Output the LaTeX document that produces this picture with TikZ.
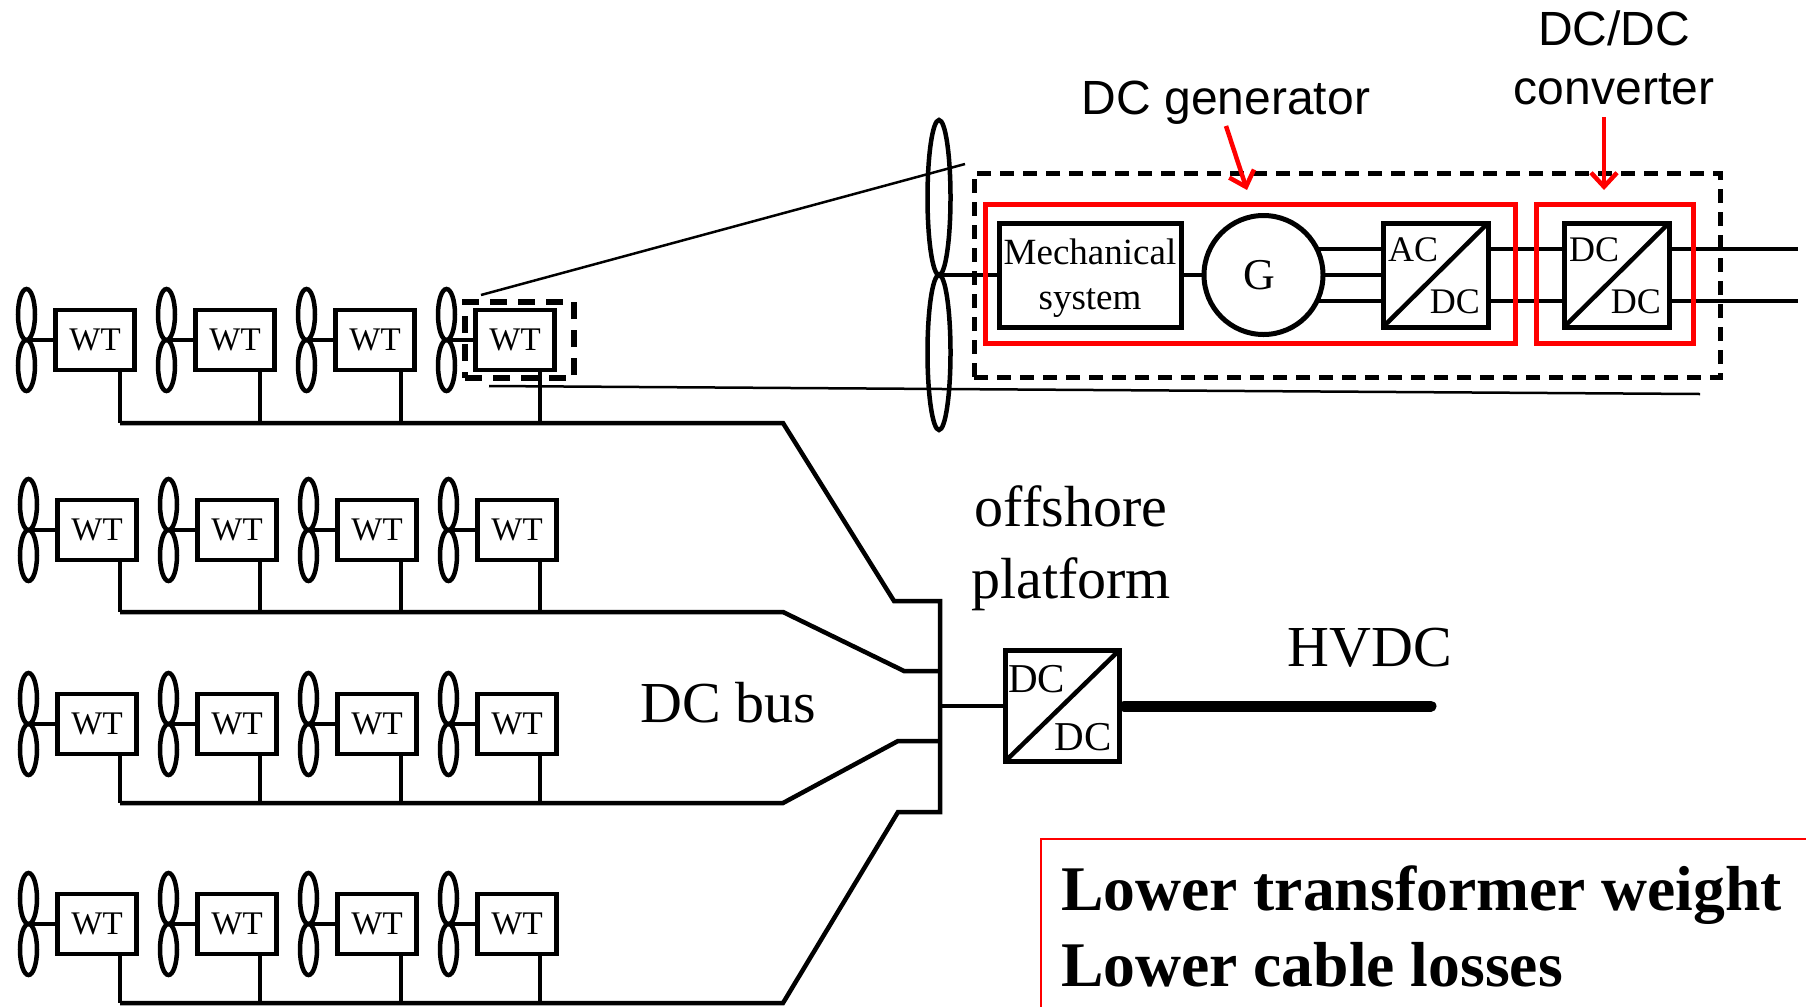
\documentclass[tikz,border=0pt]{standalone}
\usepackage{fontspec}
\setmainfont{Liberation Serif}
\newfontfamily\sanslabel{Liberation Sans}
\usetikzlibrary{positioning}
\usetikzlibrary{shapes.geometric}
\usetikzlibrary{arrows.meta}

\begin{document}
\begin{tikzpicture}[x=1pt,y=-1pt,
        blade/.style={ellipse,draw,line width=4.5pt,inner sep=0pt,outer sep=0pt,minimum width=17pt,minimum height=51pt},
        fan/.style={blade,anchor=south,label={[blade,label distance=0pt]below:{}}},
        bigblade/.style={ellipse,draw,line width=4.5pt,inner sep=0pt,outer sep=0pt,minimum width=23pt,minimum height=155pt},
        bigfan/.style={bigblade,anchor=south,label={[bigblade,label distance=0pt]below:{}}},
        wt/.style={rectangle,draw,line width=4.5pt,outer sep=0pt,minimum width=79pt,minimum height=60pt,inner sep=0pt,font=\fontsize{33}{38}\selectfont},
        block/.style={rectangle,draw,line width=5pt,outer sep=0pt,inner sep=0pt,minimum width=105pt,minimum height=104pt},
        conv/.style={inner sep=0pt,font=\fontsize{36}{40}\selectfont},
        bigconv/.style={inner sep=0pt,font=\fontsize{41}{46}\selectfont},
        big/.style={inner sep=0pt,font=\fontsize{58}{70}\selectfont},
        sans/.style={inner sep=0pt,align=center,font=\sanslabel\fontsize{48}{59}\selectfont},
        wire/.style={line width=4.5pt},
        thin line/.style={line width=2.5pt},
        redbox/.style={rectangle,draw=red,line width=5pt,outer sep=0pt,inner sep=0pt},
        dashbox/.style={rectangle,draw,line width=5pt,outer sep=0pt,inner sep=0pt,dash pattern=on 14pt off 9pt},
        redarr/.style={red,line width=4.5pt,-{Straight Barb[length=14pt,width=26pt]}}
        ]
        \useasboundingbox (0,0) rectangle (1806,1007);
        \node (w11) [wt] at (95,340) {WT};
        \node (w12) [wt,right=61pt of w11] {WT};
        \node (w13) [wt,right=61pt of w12] {WT};
        \node (w14) [wt,right=61pt of w13] {WT};
        \node (w21) [wt] at (97,530) {WT};
        \node (w22) [wt,right=61pt of w21] {WT};
        \node (w23) [wt,right=61pt of w22] {WT};
        \node (w24) [wt,right=61pt of w23] {WT};
        \node (w31) [wt] at (97,724) {WT};
        \node (w32) [wt,right=61pt of w31] {WT};
        \node (w33) [wt,right=61pt of w32] {WT};
        \node (w34) [wt,right=61pt of w33] {WT};
        \node (w41) [wt] at (97,924) {WT};
        \node (w42) [wt,right=61pt of w41] {WT};
        \node (w43) [wt,right=61pt of w42] {WT};
        \node (w44) [wt,right=61pt of w43] {WT};
        \node (f11) [fan] at ([xshift=-29pt]w11.west) {};
        \node (f12) [fan] at ([xshift=-29pt]w12.west) {};
        \node (f13) [fan] at ([xshift=-29pt]w13.west) {};
        \node (f14) [fan] at ([xshift=-29pt]w14.west) {};
        \node (f21) [fan] at ([xshift=-29pt]w21.west) {};
        \node (f22) [fan] at ([xshift=-29pt]w22.west) {};
        \node (f23) [fan] at ([xshift=-29pt]w23.west) {};
        \node (f24) [fan] at ([xshift=-29pt]w24.west) {};
        \node (f31) [fan] at ([xshift=-29pt]w31.west) {};
        \node (f32) [fan] at ([xshift=-29pt]w32.west) {};
        \node (f33) [fan] at ([xshift=-29pt]w33.west) {};
        \node (f34) [fan] at ([xshift=-29pt]w34.west) {};
        \node (f41) [fan] at ([xshift=-29pt]w41.west) {};
        \node (f42) [fan] at ([xshift=-29pt]w42.west) {};
        \node (f43) [fan] at ([xshift=-29pt]w43.west) {};
        \node (f44) [fan] at ([xshift=-29pt]w44.west) {};
        \draw[wire] (f11.south) -- (w11.west);
        \draw[wire] (f12.south) -- (w12.west);
        \draw[wire] (f13.south) -- (w13.west);
        \draw[wire] (f14.south) -- (w14.west);
        \draw[wire] (f21.south) -- (w21.west);
        \draw[wire] (f22.south) -- (w22.west);
        \draw[wire] (f23.south) -- (w23.west);
        \draw[wire] (f24.south) -- (w24.west);
        \draw[wire] (f31.south) -- (w31.west);
        \draw[wire] (f32.south) -- (w32.west);
        \draw[wire] (f33.south) -- (w33.west);
        \draw[wire] (f34.south) -- (w34.west);
        \draw[wire] (f41.south) -- (w41.west);
        \draw[wire] (f42.south) -- (w42.west);
        \draw[wire] (f43.south) -- (w43.west);
        \draw[wire] (f44.south) -- (w44.west);
        \coordinate (b11) at (120,423);
        \coordinate (b12) at (260,423);
        \coordinate (b13) at (401,423);
        \coordinate (b14) at (540,423);
        \coordinate (b21) at (120,612);
        \coordinate (b22) at (260,612);
        \coordinate (b23) at (401,612);
        \coordinate (b24) at (540,612);
        \coordinate (b31) at (120,803);
        \coordinate (b32) at (260,803);
        \coordinate (b33) at (401,803);
        \coordinate (b34) at (540,803);
        \coordinate (b41) at (120,1003);
        \coordinate (b42) at (260,1003);
        \coordinate (b43) at (401,1003);
        \coordinate (b44) at (540,1003);
        \draw[wire] (b11 |- w11.south) -- (b11);
        \draw[wire] (b12 |- w12.south) -- (b12);
        \draw[wire] (b13 |- w13.south) -- (b13);
        \draw[wire] (b14 |- w14.south) -- (b14);
        \draw[wire] (b21 |- w21.south) -- (b21);
        \draw[wire] (b22 |- w22.south) -- (b22);
        \draw[wire] (b23 |- w23.south) -- (b23);
        \draw[wire] (b24 |- w24.south) -- (b24);
        \draw[wire] (b31 |- w31.south) -- (b31);
        \draw[wire] (b32 |- w32.south) -- (b32);
        \draw[wire] (b33 |- w33.south) -- (b33);
        \draw[wire] (b34 |- w34.south) -- (b34);
        \draw[wire] (b41 |- w41.south) -- (b41);
        \draw[wire] (b42 |- w42.south) -- (b42);
        \draw[wire] (b43 |- w43.south) -- (b43);
        \draw[wire] (b44 |- w44.south) -- (b44);
        \coordinate (v1) at (940,601);
        \coordinate (v2) at (940,671);
        \coordinate (v3) at (940,741);
        \coordinate (v4) at (940,812);
        \coordinate (hub) at (940,706);
        \draw[wire] (b11) -- (783,423) -- (894,601) -- (v1) -- (v4) -- (898,812) -- (783,1003) -- (b41);
        \draw[wire] (b21) -- (783,612) -- (904,671) -- (v2);
        \draw[wire] (b31) -- (783,803) -- (898,741) -- (v3);
        \node (pf) [block,minimum width=114pt,minimum height=111pt] at (1062,706) {};
        \draw[wire] (hub) -- (pf.west);
        \draw[wire] (pf.south west) -- (pf.north east);
        \node (pfa) [bigconv,below right=15pt and 3pt of pf.north west] {DC};
        \node (pfb) [bigconv,above left=10pt and 7pt of pf.south east] {DC};
        \coordinate (hv) at (1431,706);
        \draw[line width=11pt,line cap=round,shorten <=5pt] (pf.east) -- (hv);
        \node (off) [big,align=center] at (1071,548) {offshore\\[2pt]platform};
        \node (hvdc) [big] at (1370,648) {HVDC};
        \node (bus) [big] at (728,703) {DC bus};
        \coordinate (rn) at (1806,839);
        \coordinate (rc) at (1041,839);
        \coordinate (rs) at (1041,1007);
        \draw[red,line width=2.5pt] (rn) -- (rc) -- (rs);
        \node (gain) [anchor=west,align=left,inner sep=0pt,font=\bfseries\fontsize{63.6}{76}\selectfont] at (1061,926) {Lower transformer weight\\Lower cable losses};
        \node (mech) [block,minimum width=182pt] at (1090,275) {};
        \node (mecha) [inner sep=0pt,align=center,font=\fontsize{37}{45}\selectfont] at ([yshift=-3pt]mech.center) {Mechanical\\system};
        \node (gen) [circle,draw,line width=5pt,outer sep=0pt,inner sep=0pt,minimum size=119pt,right=23pt of mech] {};
        \node (genl) [inner sep=0pt,font=\fontsize{44}{50}\selectfont] at ([xshift=-4pt]gen.center) {G};
        \node (ac) [block,right=60pt of gen] {};
        \node (dc) [block,right=76pt of ac] {};
        \draw[wire] (ac.south west) -- (ac.north east);
        \draw[wire] (dc.south west) -- (dc.north east);
        \node (aca) [conv,below right=14pt and 5pt of ac.north west] {AC};
        \node (acb) [conv,above left=13pt and 8pt of ac.south east] {DC};
        \node (dca) [conv,below right=14pt and 5pt of dc.north west] {DC};
        \node (dcb) [conv,above left=13pt and 8pt of dc.south east] {DC};
        \node (bf) [bigfan] at ([xshift=-60pt]mech.west) {};
        \draw[wire] (bf.south) -- (mech.west);
        \draw[wire] (mech.east) -- (gen.west);
        \draw[wire] (gen.east) -- (ac.west);
        \draw[wire] (gen.26) -- (gen.26 -| ac.west);
        \draw[wire] (gen.-26) -- (gen.-26 -| ac.west);
        \draw[wire] ([yshift=26pt]ac.east) -- ([yshift=26pt]dc.west);
        \draw[wire] ([yshift=-26pt]ac.east) -- ([yshift=-26pt]dc.west);
        \coordinate (o1) at (1798,249);
        \coordinate (o2) at (1798,301);
        \draw[wire] ([yshift=26pt]dc.east) -- (o1);
        \draw[wire] ([yshift=-26pt]dc.east) -- (o2);
        \node (rgen) [redbox,minimum width=530pt,minimum height=139pt] at (1250,273.5) {};
        \node (rcvt) [redbox,minimum width=157pt,minimum height=139pt] at (1614.5,273.5) {};
        \node (wtbox) [dashbox,minimum width=746pt,minimum height=204pt] at (1347,275) {};
        \node (zoombox) [dashbox,line width=6pt,dash pattern=on 17pt off 11pt,minimum width=109pt,minimum height=76pt] at (519.5,340) {};
        \node (lgen) [sans] at (1226,103) {DC generator};
        \node (lcvt) [sans] at (1614,58) {DC/DC\\converter};
        \coordinate (t1) at (1247,190);
        \coordinate (t2) at (1604,190);
        \draw[redarr] (lgen.south) ++(0,1) -- (t1);
        \draw[redarr] (lcvt.south -| t2) ++(0,12) -- (t2);
        \coordinate (z1) at (481,295);
        \coordinate (z2) at (965,164);
        \coordinate (z3) at (489,386);
        \coordinate (z4) at (1700,394);
        \draw[thin line] (z1) -- (z2);
        \draw[thin line] (z3) -- (z4);
    \end{tikzpicture}
\end{document}
